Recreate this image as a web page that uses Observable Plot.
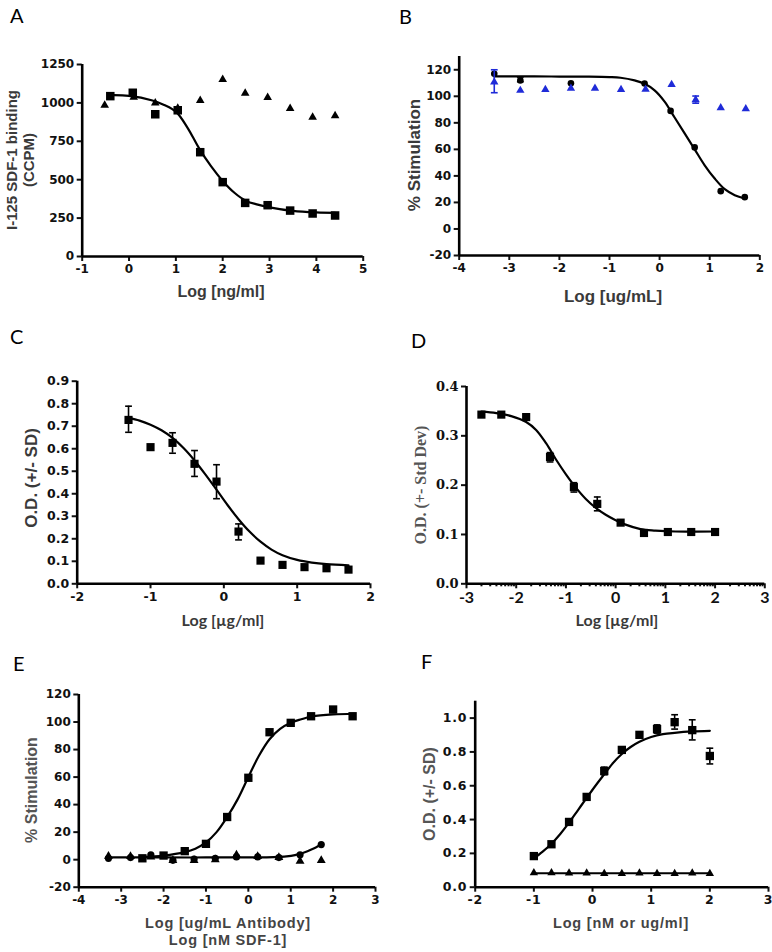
<!DOCTYPE html>
<html><head><meta charset="utf-8">
<script src="https://cdn.jsdelivr.net/npm/d3@7"></script>
<script src="https://cdn.jsdelivr.net/npm/@observablehq/plot@0.6"></script>
<style>
body{margin:0;background:#fff;}
#page{position:relative;width:772px;height:952px;overflow:hidden;background:#fff;}
.panel{position:absolute;}
.ttl{position:absolute;white-space:nowrap;font-family:"Liberation Sans",Arial,sans-serif;font-weight:bold;color:#3a3a3a;text-align:center;transform:translate(-50%,-50%);}
.rot{transform:translate(-50%,-50%) rotate(-90deg);}
.letter{position:absolute;font-family:Lato,"Open Sans",sans-serif;font-size:20px;line-height:20px;color:#000;}
</style></head><body><div id="page"></div><script>
// ---------- Panel A ----------
const aX = [-0.4, 0.08, 0.56, 1.04, 1.52, 2.0, 2.48, 2.96, 3.44, 3.92, 4.4];
const aSquares = [1044, 1066, 926, 952, 679, 484, 349, 334, 299, 280, 267];
const aTriX = [-0.52, 0.1, 0.56, 1.04, 1.52, 2.0, 2.48, 2.96, 3.44, 3.92, 4.4];
const aTriangles = [985, 1037, 1000, 965, 1015, 1152, 1063, 1035, 963, 907, 917];
const aFitX = [-0.4, 0, 0.5, 0.75, 1.0, 1.25, 1.5, 1.75, 2.0, 2.25, 2.5, 2.75, 3.0, 3.5, 4.0, 4.4];
const aFitY = [1050, 1046, 1016, 987, 943, 838, 702, 588, 492, 415, 362, 338, 320, 297, 287, 284];
const aXTicks = [-1, 0, 1, 2, 3, 4, 5];
const aYTicks = [0, 250, 500, 750, 1000, 1250];

// ---------- Panel B ----------
const bCircleX = [-3.3, -2.78, -1.77, -0.3, 0.22, 0.7, 1.22, 1.7];
const bCircleY = [117, 112, 109.8, 109.6, 89, 61.5, 28.5, 24];
const bTriX = [-3.3, -2.78, -2.28, -1.77, -1.29, -0.77, -0.28, 0.24, 0.72, 1.22, 1.72];
const bTriY = [110.7, 104.4, 105.0, 106.0, 106.0, 105.0, 105.2, 108.9, 97.4, 91.3, 90.6];
const bTriErrX = [-3.3, 0.72];
const bTriErrLo = [102.7, 94.8];
const bTriErrHi = [120, 100.2];
const bCircErrX = [-2.78];
const bCircErrLo = [111];
const bCircErrHi = [114.5];
const bFitX = [-3.3, -2.5, -2, -1.5, -1, -0.78, -0.5, -0.3, -0.1, 0.1, 0.3, 0.5, 0.7, 0.9, 1.1, 1.3, 1.5, 1.7];
const bFitY = [115, 115, 114.9, 114.8, 114.5, 114, 112, 109.4, 104.5, 96, 84, 72, 60, 48, 38, 30, 25.5, 23];
const bXTicks = [-4, -3, -2, -1, 0, 1, 2];
const bYTicks = [-20, 0, 20, 40, 60, 80, 100, 120];

// ---------- Panel C ----------
const cX = [-1.3, -1.0, -0.7, -0.4, -0.1, 0.2, 0.5, 0.8, 1.1, 1.4, 1.7];
const cY = [0.728, 0.607, 0.626, 0.533, 0.454, 0.232, 0.103, 0.084, 0.074, 0.069, 0.063];
const cErrX = [-1.3, -0.7, -0.4, -0.1, 0.2];
const cErrLo = [0.673, 0.58, 0.477, 0.378, 0.195];
const cErrHi = [0.789, 0.671, 0.592, 0.529, 0.266];
const cFitX = [-1.3, -1.15, -1.0, -0.85, -0.7, -0.55, -0.4, -0.25, -0.1, 0.05, 0.2, 0.35, 0.5, 0.65, 0.8, 1.0, 1.2, 1.4, 1.7];
const cFitY = [0.737, 0.725, 0.707, 0.682, 0.648, 0.603, 0.548, 0.485, 0.418, 0.35, 0.287, 0.232, 0.187, 0.152, 0.127, 0.106, 0.094, 0.087, 0.082];
const cXTicks = [-2, -1, 0, 1, 2];
const cYTicks = [0, 0.1, 0.2, 0.3, 0.4, 0.5, 0.6, 0.7, 0.8, 0.9];

// ---------- Panel D ----------
const dX = [-2.7, -2.3, -1.8, -1.32, -0.84, -0.37, 0.1, 0.57, 1.05, 1.52, 2.0];
const dY = [0.343, 0.343, 0.338, 0.257, 0.196, 0.162, 0.124, 0.103, 0.105, 0.105, 0.105];
const dErrX = [-1.32, -0.84, -0.37];
const dErrLo = [0.247, 0.186, 0.148];
const dErrHi = [0.266, 0.205, 0.176];
const dFitX = [-2.7, -2.4, -2.1, -1.8, -1.6, -1.4, -1.2, -1.0, -0.8, -0.6, -0.4, -0.2, 0, 0.2, 0.5, 0.8, 1.2, 2.0];
const dFitY = [0.349, 0.346, 0.34, 0.328, 0.312, 0.285, 0.252, 0.222, 0.195, 0.172, 0.154, 0.14, 0.129, 0.12, 0.111, 0.108, 0.106, 0.106];
const dXTicks = [-3, -2, -1, 0, 1, 2, 3];
const dYTicks = [0, 0.1, 0.2, 0.3, 0.4];

// ---------- Panel E ----------
const eSqX = [-2.5, -2.0, -1.5, -1.0, -0.5, 0, 0.5, 1.0, 1.48, 2.0, 2.46];
const eSqY = [1, 3, 6.2, 11.5, 31, 59.5, 92.6, 99.4, 104.2, 109.1, 104.2];
const eX = [-3.3, -2.78, -2.3, -1.78, -1.28, -0.78, -0.28, 0.22, 0.72, 1.22, 1.72];
const eCircY = [1, 1.5, 3.5, -0.5, 0.5, 1, 2, 2, 1.5, 3.5, 11];
const eTriY = [2.5, 2.3, 2, -0.5, -0.5, 0, 3.5, 2.3, 1.7, -1.1, -0.6];
const eFitSqX = [-2.5, -2, -1.5, -1.25, -1, -0.75, -0.5, -0.25, 0, 0.25, 0.5, 0.75, 1, 1.25, 1.5, 2, 2.5];
const eFitSqY = [2, 3, 5.5, 8, 12.5, 20, 31, 44, 60, 75.5, 87.5, 95, 99.5, 102, 104, 105.5, 106];
const eFitFlatX = [-3.3, -2, -1, 0, 0.6, 0.9, 1.1, 1.3, 1.5, 1.72];
const eFitFlatY = [1.6, 1.6, 1.6, 1.7, 1.9, 2.4, 3.3, 5, 7.5, 11];
const eXTicks = [-4, -3, -2, -1, 0, 1, 2, 3];
const eYTicks = [-20, 0, 20, 40, 60, 80, 100, 120];

// ---------- Panel F ----------
const fX = [-1.0, -0.7, -0.4, -0.1, 0.2, 0.5, 0.8, 1.1, 1.4, 1.7, 2.0];
const fSqY = [0.184, 0.254, 0.386, 0.534, 0.687, 0.812, 0.901, 0.935, 0.976, 0.929, 0.776];
const fTriY = [0.085, 0.085, 0.083, 0.083, 0.080, 0.080, 0.084, 0.080, 0.080, 0.083, 0.080];
const fErrX = [0.2, 1.1, 1.4, 1.7, 2.0];
const fErrLo = [0.665, 0.911, 0.935, 0.871, 0.729];
const fErrHi = [0.71, 0.96, 1.02, 0.99, 0.822];
const fFitX = [-1, -0.85, -0.7, -0.55, -0.4, -0.25, -0.1, 0.05, 0.2, 0.35, 0.5, 0.65, 0.8, 1.0, 1.2, 1.4, 1.7, 2.0];
const fFitY = [0.17, 0.21, 0.257, 0.315, 0.382, 0.455, 0.528, 0.6, 0.668, 0.735, 0.788, 0.829, 0.86, 0.888, 0.905, 0.913, 0.921, 0.925];
const fFlatX = [-1, 2];
const fFlatY = [0.083, 0.083];
const fXTicks = [-2, -1, 0, 1, 2, 3];
const fYTicks = [0, 0.2, 0.4, 0.6, 0.8, 1.0];

// ---------- helpers ----------
const rows = (xs, ys) => xs.map((x, i) => ({x, y: ys[i]}));
const errRows = (xs, lo, hi) => xs.map((x, i) => ({x, lo: lo[i], hi: hi[i]}));
const fmtInt = d => (d < 0 ? "-" + Math.abs(d) : String(d));
const fmt1 = d => d.toFixed(1);
const capSymbol = {draw(ctx, size) { const w = Math.sqrt(size) * 0.6; ctx.moveTo(-w, 0); ctx.lineTo(w, 0); }};

function fit(xs, ys, color = "black") {
  return Plot.line(rows(xs, ys), {x: "x", y: "y", stroke: color, strokeWidth: 2.2, curve: "catmull-rom"});
}
function squares(xs, ys, r = 4.8, color = "black") {
  return Plot.dot(rows(xs, ys), {x: "x", y: "y", symbol: "square", r, fill: color, stroke: "none"});
}
function triangles(xs, ys, r = 3.2, color = "black") {
  return Plot.dot(rows(xs, ys), {x: "x", y: "y", symbol: "triangle", r, fill: color, stroke: "none"});
}
function circles(xs, ys, r = 3.3, color = "black") {
  return Plot.dot(rows(xs, ys), {x: "x", y: "y", symbol: "circle", r, fill: color, stroke: "none"});
}
function errBars(xs, lo, hi, color = "black") {
  const d = errRows(xs, lo, hi);
  return [
    Plot.ruleX(d, {x: "x", y1: "lo", y2: "hi", stroke: color, strokeWidth: 1.6}),
    Plot.dot(d, {x: "x", y: "lo", symbol: capSymbol, r: 3.2, fill: "none", stroke: color, strokeWidth: 1.6}),
    Plot.dot(d, {x: "x", y: "hi", symbol: capSymbol, r: 3.2, fill: "none", stroke: color, strokeWidth: 1.6})
  ];
}

const page = document.getElementById("page");
const TICKFONT = "'DejaVu Sans', Verdana, sans-serif";

function panel(cfg) {
  const [L, T, W, H] = cfg.box;
  const [fx0, fx1, fy0, fy1] = cfg.frame;
  const base = {fontFamily: TICKFONT, fontSize: cfg.tickSize || 12.5, fontWeight: "bold"};
  const xf = Object.assign({}, base, cfg.xFont || {});
  const yf = Object.assign({}, base, cfg.yFont || {});
  const extra = cfg.extraAxes || [];
  const svg = Plot.plot({
    width: W, height: H,
    marginLeft: fx0 - L, marginRight: L + W - fx1, marginTop: fy0 - T, marginBottom: T + H - fy1,
    x: {domain: cfg.xDomain},
    y: {domain: cfg.yDomain},
    style: {background: "transparent", overflow: "visible", letterSpacing: cfg.letterSpacing || "normal"},
    marks: [
      ...extra,
      Plot.axisX({ticks: cfg.xTicks, tickFormat: cfg.xFormat || fmtInt, tickSize: 5, tickPadding: 3, strokeWidth: 2, color: "#111", label: null,
                  fontSize: xf.fontSize, fontFamily: xf.fontFamily, fontWeight: xf.fontWeight}),
      Plot.axisY({ticks: cfg.yTicks, tickFormat: cfg.yFormat || fmtInt, tickSize: 5, tickPadding: 3, strokeWidth: 2, color: "#111", label: null,
                  fontSize: yf.fontSize, fontFamily: yf.fontFamily, fontWeight: yf.fontWeight}),
      Plot.ruleY([cfg.yDomain[0]], {stroke: "black", strokeWidth: 2.6}),
      Plot.ruleX([cfg.xDomain[0]], {stroke: "black", strokeWidth: 2.6}),
      ...cfg.marks
    ]
  });
  const div = document.createElement("div");
  div.className = "panel";
  div.style.left = L + "px"; div.style.top = T + "px";
  div.style.width = W + "px"; div.style.height = H + "px";
  div.appendChild(svg);
  page.appendChild(div);
}

function title(text, cx, cy, opts = {}) {
  const el = document.createElement("div");
  el.className = "ttl" + (opts.rotate ? " rot" : "");
  el.style.left = cx + "px"; el.style.top = cy + "px";
  el.style.fontSize = (opts.size || 15) + "px";
  if (opts.family) el.style.fontFamily = opts.family;
  if (opts.color) el.style.color = opts.color;
  if (opts.spacing) el.style.letterSpacing = opts.spacing;
  el.style.lineHeight = (opts.lineHeight || (opts.size || 15) + 2) + "px";
  el.innerHTML = text;
  page.appendChild(el);
}
function letter(t, x, y) {
  const el = document.createElement("div");
  el.className = "letter";
  el.style.left = x + "px"; el.style.top = y + "px";
  el.textContent = t;
  page.appendChild(el);
}

// ---------- A ----------
panel({
  box: [0, 0, 386, 310], frame: [81.7, 362.7, 64, 256],
  xDomain: [-1, 5], yDomain: [0, 1250], xTicks: aXTicks, yTicks: aYTicks,
  tickSize: 12,
  marks: [fit(aFitX, aFitY), squares(aX, aSquares), triangles(aTriX, aTriangles)]
});
// ---------- B ----------
const blue = "#1f2bd8";
panel({
  box: [386, 0, 386, 310], frame: [458.7, 759.3, 56, 255],
  xDomain: [-4, 2], yDomain: [-20, 130], xTicks: bXTicks, yTicks: bYTicks,
  tickSize: 12,
  marks: [
    fit(bFitX, bFitY),
    ...errBars(bCircErrX, bCircErrLo, bCircErrHi),
    circles(bCircleX, bCircleY, 3.3),
    ...errBars(bTriErrX, bTriErrLo, bTriErrHi, blue),
    triangles(bTriX, bTriY, 3.1, blue)
  ]
});
// ---------- C ----------
panel({
  box: [0, 310, 386, 310], frame: [76.7, 370, 380.7, 583.3],
  xDomain: [-2, 2], yDomain: [0, 0.9], xTicks: cXTicks, yTicks: cYTicks, yFormat: fmt1,
  tickSize: 12.5,
  marks: [fit(cFitX, cFitY), ...errBars(cErrX, cErrLo, cErrHi), squares(cX, cY, 4.6)]
});
// ---------- D ----------
const dMinor = [];
for (let n = -3; n < 3; n++) for (let k = 2; k <= 9; k++) dMinor.push(n + Math.log10(k));
panel({
  box: [386, 310, 386, 310], frame: [466, 764.3, 386, 583.3],
  xDomain: [-3, 3], yDomain: [0, 0.4], xTicks: dXTicks, yTicks: dYTicks, yFormat: fmt1,
  xFont: {fontFamily: "Lato, 'Open Sans', sans-serif", fontSize: 16},
  yFont: {fontFamily: "'DejaVu Serif', 'Liberation Serif', serif", fontSize: 13},
  extraAxes: [Plot.axisX({ticks: dMinor, tickSize: 3, tickFormat: () => "", strokeWidth: 2, color: "#111", label: null})],
  marks: [fit(dFitX, dFitY), ...errBars(dErrX, dErrLo, dErrHi), squares(dX, dY, 4.6)]
});
// ---------- E ----------
panel({
  box: [0, 620, 386, 332], frame: [78.3, 375, 694, 886.7],
  xDomain: [-4, 3], yDomain: [-20, 120], xTicks: eXTicks, yTicks: eYTicks,
  tickSize: 12,
  marks: [
    fit(eFitFlatX, eFitFlatY), fit(eFitSqX, eFitSqY),
    squares(eSqX, eSqY, 4.7), circles(eX, eCircY, 3.6), triangles(eX, eTriY, 3.3)
  ]
});
// ---------- F ----------
panel({
  box: [386, 620, 386, 332], frame: [474.7, 768, 700.7, 886.7],
  xDomain: [-2, 3], yDomain: [0, 1.1], xTicks: fXTicks, yTicks: fYTicks, yFormat: fmt1,
  tickSize: 12.5, letterSpacing: "0.8px",
  marks: [
    fit(fFitX, fFitY), Plot.line(rows(fFlatX, fFlatY), {x: "x", y: "y", stroke: "black", strokeWidth: 2}),
    ...errBars(fErrX, fErrLo, fErrHi), squares(fX, fSqY, 4.7), triangles(fX, fTriY, 3.1)
  ]
});

// ---------- titles ----------
title("Log [ng/ml]", 221, 292, {size: 16});
title("I-125 SDF-1 binding<br>(CCPM)", 20, 160, {size: 15, rotate: true, lineHeight: 17});
title("% Stimulation", 414, 155, {size: 17, rotate: true});
title("Log [ug/mL]", 613, 296, {size: 17});
title("O.D. (+/- SD)", 31, 478, {size: 17, rotate: true});
title("Log [\u00b5g/ml]", 223, 620, {size: 16, family: "Lato, 'Open Sans', sans-serif"});
title("O.D. (+- Std Dev)", 421, 485, {size: 16, rotate: true, family: "'Liberation Serif', 'DejaVu Serif', serif", color: "#555"});
title("Log [\u00b5g/ml]", 617, 620, {size: 16, family: "Lato, 'Open Sans', sans-serif"});
title("% Stimulation", 32, 790, {size: 16, rotate: true, color: "#555"});
title("Log [ug/mL Antibody]<br>Log [nM SDF-1]", 228, 932, {size: 14.5, spacing: "0.8px", lineHeight: 17, color: "#444"});
title("O.D. (+/- SD)", 430, 794, {size: 16, rotate: true, color: "#555"});
title("Log [nM or ug/ml]", 621, 923, {size: 14.5, spacing: "0.8px", color: "#444"});

letter("A", 10, 5);
letter("B", 399, 6);
letter("C", 10, 326);
letter("D", 411, 330);
letter("E", 13, 653);
letter("F", 421, 651);
</script></body></html>
